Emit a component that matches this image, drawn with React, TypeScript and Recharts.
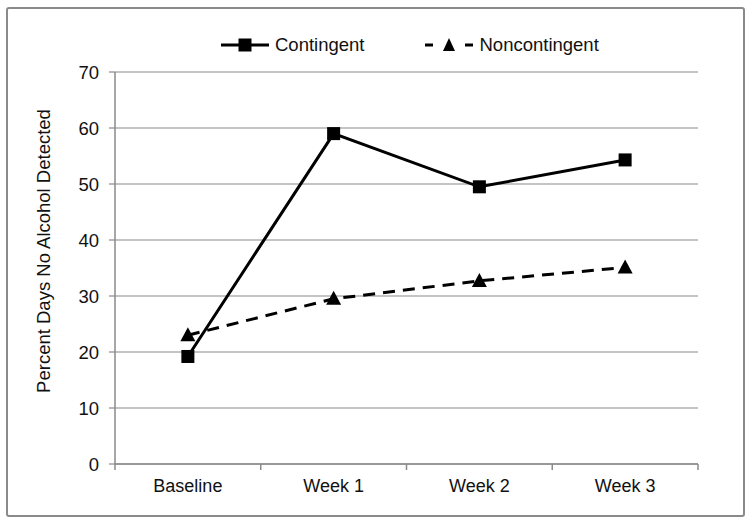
import React from 'react';
import { LineChart, Line, XAxis, YAxis, CartesianGrid, Legend } from 'recharts';

const categories = ['Baseline', 'Week 1', 'Week 2', 'Week 3'];
const contingent = [19.2, 59.0, 49.5, 54.3];
const noncontingent = [23.0, 29.5, 32.7, 35.1];
const yTicks = [0, 10, 20, 30, 40, 50, 60, 70];

const data = categories.map((c, i) => ({
  name: c,
  Contingent: contingent[i],
  Noncontingent: noncontingent[i],
}));

const FONT = '"Liberation Sans", Arial, sans-serif';
const GRAY = '#8a8a8a';
const W = 754;
const H = 527;
const PLOT_LEFT = 115;
const PLOT_RIGHT = 698;
const HALF_BAND = (PLOT_RIGHT - PLOT_LEFT) / categories.length / 2;

const SquareDot = (props: any) => {
  const { cx, cy } = props;
  if (cx == null || cy == null) return null;
  return <rect x={cx - 6.5} y={cy - 6.5} width={13} height={13} fill="#000" />;
};

const TriangleDot = (props: any) => {
  const { cx, cy } = props;
  if (cx == null || cy == null) return null;
  return <polygon points={`${cx},${cy - 8} ${cx + 7.5},${cy + 6} ${cx - 7.5},${cy + 6}`} fill="#000" />;
};

const XTick = (props: any) => {
  const { x, y, payload, index } = props;
  const last = index === categories.length - 1;
  return (
    <g>
      <line x1={x - HALF_BAND} x2={x - HALF_BAND} y1={y} y2={y + 6} stroke={GRAY} strokeWidth={1.5} />
      {last && <line x1={x + HALF_BAND} x2={x + HALF_BAND} y1={y} y2={y + 6} stroke={GRAY} strokeWidth={1.5} />}
      <text x={x} y={y + 28} textAnchor="middle" fontFamily={FONT} fontSize={18} fill="#111">
        {payload.value}
      </text>
    </g>
  );
};

const LegendContent = () => (
  <div style={{ display: 'flex', justifyContent: 'flex-start', alignItems: 'center', height: 30, fontFamily: FONT, fontSize: 18.5, color: '#111' }}>
    <div style={{ marginLeft: 221, display: 'flex', alignItems: 'center' }}>
      <svg width={48} height={16}>
        <line x1={0} x2={48} y1={8} y2={8} stroke="#000" strokeWidth={3} />
        <rect x={17.5} y={1.5} width={13} height={13} fill="#000" />
      </svg>
      <span style={{ marginLeft: 6 }}>Contingent</span>
    </div>
    <div style={{ marginLeft: 61, display: 'flex', alignItems: 'center' }}>
      <svg width={48} height={16}>
        <line x1={0} x2={8} y1={8} y2={8} stroke="#000" strokeWidth={3} />
        <polygon points="24,1 30,14 18,14" fill="#000" />
        <line x1={40} x2={48} y1={8} y2={8} stroke="#000" strokeWidth={3} />
      </svg>
      <span style={{ marginLeft: 6 }}>Noncontingent</span>
    </div>
  </div>
);

export default function App() {
  return (
    <div style={{ position: 'absolute', left: 0, top: 0, width: W, height: H, background: '#fff' }}>
      <div
        style={{
          position: 'absolute',
          left: 6,
          top: 7,
          width: 739,
          height: 510,
          boxSizing: 'border-box',
          border: `2px solid ${GRAY}`,
          borderRadius: 3,
        }}
      />
      <LineChart
        width={W}
        height={H}
        data={data}
        margin={{ top: 42, right: W - PLOT_RIGHT, bottom: 23, left: 0 }}
        style={{ position: 'absolute', left: 0, top: 0 }}
      >
        <CartesianGrid vertical={false} stroke={GRAY} strokeWidth={1.2} />
        <XAxis
          dataKey="name"
          height={40}
          padding={{ left: HALF_BAND, right: HALF_BAND }}
          axisLine={{ stroke: GRAY, strokeWidth: 1.5 }}
          tickLine={false}
          tickSize={0}
          tickMargin={0}
          tick={<XTick />}
          interval={0}
        />
        <YAxis
          width={PLOT_LEFT}
          domain={[0, 70]}
          ticks={yTicks}
          interval={0}
          axisLine={{ stroke: GRAY, strokeWidth: 1.5 }}
          tickLine={{ stroke: GRAY, strokeWidth: 1.2 }}
          tickSize={6}
          tickMargin={10}
          tick={{ fontFamily: FONT, fontSize: 18.5, fill: '#111' }}
          label={{
            value: 'Percent Days No Alcohol Detected',
            angle: -90,
            position: 'center',
            dx: -14,
            dy: -17,
            style: { fontFamily: FONT, fontSize: 18.5, fill: '#111', textAnchor: 'middle' },
          }}
        />
        <Legend
          verticalAlign="top"
          align="left"
          content={<LegendContent />}
          wrapperStyle={{ top: 30, left: 0, width: W, height: 30 }}
        />
        <Line
          type="linear"
          dataKey="Noncontingent"
          stroke="#000"
          strokeWidth={3}
          strokeDasharray="12 8"
          dot={<TriangleDot />}
          activeDot={false}
          isAnimationActive={false}
        />
        <Line
          type="linear"
          dataKey="Contingent"
          stroke="#000"
          strokeWidth={3}
          dot={<SquareDot />}
          activeDot={false}
          isAnimationActive={false}
        />
      </LineChart>
    </div>
  );
}
